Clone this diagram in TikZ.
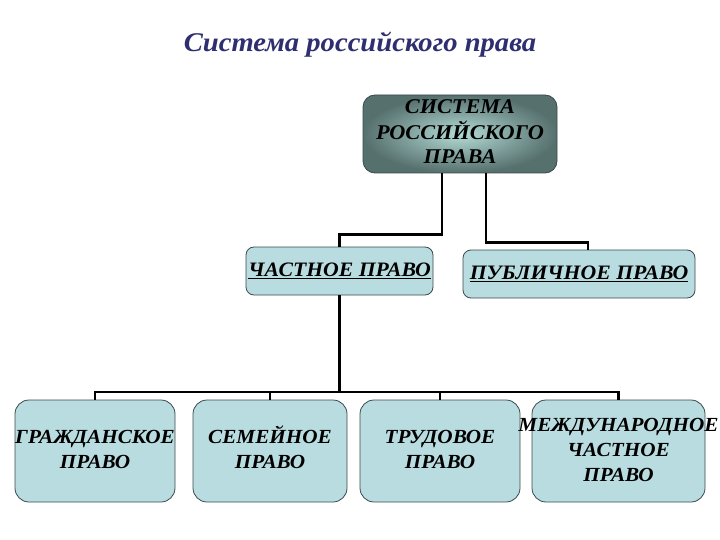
\documentclass[tikz,border=0pt]{standalone}
\usepackage{fontspec}
\setmainfont{Liberation Serif}[BoldItalicFont={Liberation Serif Bold Italic}]
\newfontfamily\boxfont{Liberation Serif Bold Italic}[FakeStretch=1.06]
\definecolor{titlecol}{HTML}{2E2E70}
\definecolor{boxblue}{HTML}{B9DCE0}
\definecolor{boxedge}{HTML}{3A4A4C}
\definecolor{topin}{HTML}{B4DCD6}
\definecolor{topout}{HTML}{56706E}
\begin{document}
\begin{tikzpicture}[x=1pt,y=-1pt,
  conn/.style={line width=2.4pt,black},
  leaf/.style={draw=boxedge,line width=0.8pt,fill=boxblue,rounded corners=14pt,
    minimum width=#1,minimum height=102pt,inner sep=0pt,
    font=\boxfont\fontsize{20}{25}\selectfont},
  mid/.style={draw=boxedge,line width=0.8pt,fill=boxblue,rounded corners=8pt,
    minimum width=#1,minimum height=48pt,inner sep=0pt,
    font=\boxfont\fontsize{20.5}{22}\selectfont},
  topbox/.style={draw=boxedge,line width=0.8pt,inner color=topin,outer color=topout,
    rounded corners=12pt,minimum width=194pt,minimum height=78pt,inner sep=0pt,
    font=\boxfont\fontsize{21}{24}\selectfont}
]
\useasboundingbox (0,0) rectangle (720,540);
\node[text=titlecol,font=\boxfont\fontsize{27}{30}\selectfont] (title) at (360,45) {Система российского права};
\node[topbox] (top) at (460,134) {\makebox[0pt]{\begin{tabular}{@{}c@{}}СИСТЕМА\\РОССИЙСКОГО\\ПРАВА\end{tabular}}};
\node[mid=187pt] (chast) at (339.5,271) {\makebox[0pt]{\underline{ЧАСТНОЕ ПРАВО}}};
\node[mid=232pt] (publ) at (579,274) {\makebox[0pt]{\underline{ПУБЛИЧНОЕ ПРАВО}}};
\node[leaf=160pt] (b1) at (95,451) {\makebox[0pt]{\begin{tabular}{@{}c@{}}ГРАЖДАНСКОЕ\\ПРАВО\end{tabular}}};
\node[leaf=154pt] (b2) at (270,451) {\makebox[0pt]{\begin{tabular}{@{}c@{}}СЕМЕЙНОЕ\\ПРАВО\end{tabular}}};
\node[leaf=160pt] (b3) at (440,451) {\makebox[0pt]{\begin{tabular}{@{}c@{}}ТРУДОВОЕ\\ПРАВО\end{tabular}}};
\node[leaf=173pt] (b4) at (618.5,451) {\makebox[0pt]{\begin{tabular}{@{}c@{}}МЕЖДУНАРОДНОЕ\\ЧАСТНОЕ\\ПРАВО\end{tabular}}};
\coordinate (bus) at (340,392);
\draw[conn] ([xshift=-18pt]top.south) -- ++(0pt,-61pt) -| (chast.north);
\draw[conn] ([xshift=26pt]top.south) -- ++(0pt,-69pt) -| ([xshift=9pt]publ.north);
\draw[conn] (chast.south) -- (chast.south |- bus);
\draw[conn] (b1.north) -- (b1.north |- bus) -- (b4.north |- bus) -- (b4.north);
\draw[conn] (b2.north) -- (b2.north |- bus);
\draw[conn] (b3.north) -- (b3.north |- bus);
\end{tikzpicture}
\end{document}
